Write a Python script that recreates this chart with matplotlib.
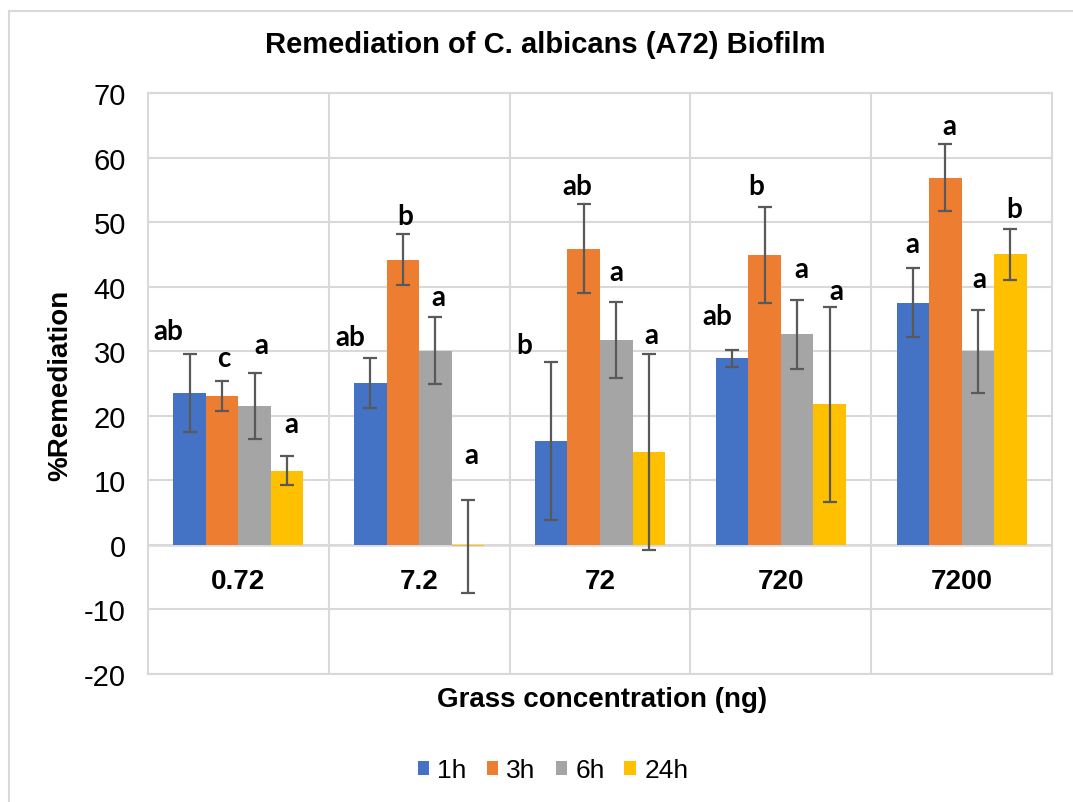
import matplotlib
matplotlib.use("Agg")
from matplotlib import pyplot as plt
from matplotlib.patches import Rectangle
import numpy as np

plt.rcParams['axes.unicode_minus'] = False

# data
categories = ["0.72", "7.2", "72", "720", "7200"]
series = ["1h", "3h", "6h", "24h"]
h1 = [23.5, 25.1, 16.1, 28.9, 37.5]
h3 = [23.1, 44.2, 45.9, 44.9, 56.9]
h6 = [21.5, 30.1, 31.7, 32.6, 30.0]
h24 = [11.5, -0.2, 14.4, 21.8, 45.0]
err1 = [6.0, 3.9, 12.2, 1.3, 5.35]
err3 = [2.35, 4.0, 6.9, 7.4, 5.2]
err6 = [5.15, 5.2, 5.9, 5.4, 6.45]
err24 = [2.3, 7.2, 15.2, 15.1, 3.9]

# significance letters (per category: 1h, 3h, 6h, 24h)
letters = [["ab", "c", "a", "a"],
           ["ab", "b", "a", "a"],
           ["b", "ab", "a", "a"],
           ["ab", "b", "a", "a"],
           ["a", "a", "a", "b"]]
# where the letters sit (y in data units, x shift in px)
letter_y = [[33.2, 28.9, 30.9, 18.8],
            [32.2, 51.0, 38.4, 13.9],
            [30.9, 55.6, 42.3, 32.5],
            [35.5, 55.6, 42.8, 39.4],
            [46.6, 64.9, 41.2, 52.0]]
letter_dx = [[-21, 2, 7, 4],
             [-20, 2, 3, 3],
             [-27, -6, 0, 3],
             [-15, -8, 4, 7],
             [0, 4, 2, 4]]

colors = ["#4472C4", "#ED7D31", "#A5A5A5", "#FFC000"]
grid_c = "#D9D9D9"

W, H = 1073, 803
fig = plt.figure(figsize=(W / 100, H / 100), dpi=100)
ax = fig.add_axes([148 / W, 1 - 675 / H, (1052 - 148) / W, (675 - 94) / H])

# chart frame
fig.patches.append(Rectangle((9 / W, -0.1), 1.2, 1 - 12 / H + 0.1, transform=fig.transFigure,
                             fill=False, ec=grid_c, lw=1.5))

x = np.arange(len(categories))
w = 0.18
vals = [h1, h3, h6, h24]
errs = [err1, err3, err6, err24]
for i in range(4):
    ax.bar(x + (i - 1.5) * w, vals[i], w, color=colors[i], label=series[i], zorder=3,
           yerr=errs[i], error_kw=dict(ecolor="#595959", elinewidth=1.6, capsize=5, capthick=1.6, zorder=4))

# letters
fnt_letter = ["Lato", "DejaVu Sans"]
for c in range(len(categories)):
    for i in range(4):
        t = ax.text(x[c] + (i - 1.5) * w, letter_y[c][i], letters[c][i], ha="center", va="center",
                    fontsize=20, fontweight="bold", family=fnt_letter, zorder=5)
        t.set_transform(ax.transData + matplotlib.transforms.ScaledTranslation(letter_dx[c][i] / 100, 0, fig.dpi_scale_trans))

ax.set_xlim(-0.5, len(categories) - 0.5)
ax.set_ylim(-20, 70)
ax.set_yticks(np.arange(-20, 71, 10))
ax.set_xticks([])
ax.yaxis.grid(True, color=grid_c, lw=1.5, zorder=0)
for b in np.arange(0.5, len(categories) - 0.5, 1):
    ax.axvline(b, color=grid_c, lw=1.5, zorder=0)
ax.axhline(0, color=grid_c, lw=1.8, zorder=2)
for s in ax.spines.values():
    s.set_color(grid_c)
    s.set_linewidth(1.5)
ax.tick_params(axis="y", length=0, pad=16, labelsize=21, labelcolor="#000000")
for lab in ax.get_yticklabels():
    lab.set_family("Liberation Sans")

# category labels sit below the zero line
for c, name in enumerate(categories):
    ax.text(x[c], -5.6, name, ha="center", va="center", fontsize=20, fontweight="bold",
            family="Liberation Sans", zorder=5)

fig.text(0.508, 1 - 45 / H, "Remediation of C. albicans (A72) Biofilm", ha="center", va="center",
         fontsize=21, fontweight="bold", family="Liberation Sans")
fig.text(602 / W, 1 - 700 / H, "Grass concentration (ng)", ha="center", va="center",
         fontsize=20, fontweight="bold", family="Liberation Sans")
fig.text(60 / W, 1 - 385 / H, "%Remediation", ha="center", va="center", rotation=90,
         fontsize=20, fontweight="bold", family="Liberation Sans")

fig.legend(loc="center", bbox_to_anchor=(553 / W, 1 - 771 / H), ncol=4, frameon=False,
           prop={"family": "Liberation Sans", "size": 19}, handlelength=0.45, handleheight=0.45,
           handletextpad=0.3, columnspacing=0.75)

fig.savefig("out.png", dpi=100)
